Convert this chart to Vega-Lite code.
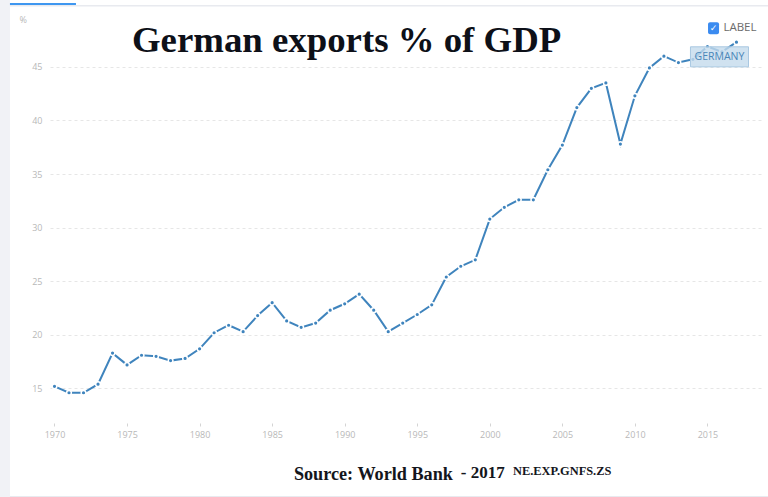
{
  "$schema": "https://vega.github.io/schema/vega-lite/v6.json",
  "width": 712,
  "height": 406,
  "autosize": "none",
  "padding": { "left": 50, "top": 14, "right": 6, "bottom": 77 },
  "background": "#ffffff",
  "config": {
    "view": { "stroke": null },
    "font": "Open Sans"
  },
  "encoding": {
    "x": {
      "field": "year",
      "type": "quantitative",
      "title": null,
      "scale": { "domain": [1969.69, 2018.76], "nice": false, "zero": false },
      "axis": {
        "values": [1970, 1975, 1980, 1985, 1990, 1995, 2000, 2005, 2010, 2015],
        "format": "d",
        "grid": false,
        "domain": false,
        "offset": 3,
        "tickSize": 3,
        "tickColor": "#d4d4d4",
        "labelColor": "#b8b8b8",
        "labelFontSize": 9,
        "labelPadding": 4
      }
    },
    "y": {
      "field": "pct",
      "type": "quantitative",
      "title": null,
      "scale": { "domain": [12.06, 49.93], "nice": false, "zero": false },
      "axis": {
        "values": [15, 20, 25, 30, 35, 40, 45],
        "grid": true,
        "gridColor": "#e6e6e6",
        "gridDash": [3, 3],
        "domain": false,
        "ticks": false,
        "labelColor": "#b8b8b8",
        "labelFontSize": 9,
        "labelPadding": 8
      }
    }
  },
  "layer": [
    {
      "data": { "values": [{ "year": 1966.24, "year2": 1966.93, "pct": 51.24, "pct2": 4.88 }] },
      "mark": { "type": "rect", "color": "#f1f2f6" },
      "encoding": { "x2": { "field": "year2" }, "y2": { "field": "pct2" } }
    },
    {
      "data": { "values": [
        { "year": 1966.93, "year2": 2019.17, "pct": 50.78, "pct2": 50.62 },
        { "year": 1966.93, "year2": 2019.17, "pct": 4.97, "pct2": 4.88 }
      ] },
      "mark": { "type": "rect", "color": "#e8eaef" },
      "encoding": { "x2": { "field": "year2" }, "y2": { "field": "pct2" } }
    },
    {
      "data": { "values": [{ "year": 1966.93, "year2": 1971.48, "pct": 50.96, "pct2": 50.76 }] },
      "mark": { "type": "rect", "color": "#3f97f0" },
      "encoding": { "x2": { "field": "year2" }, "y2": { "field": "pct2" } }
    },
    {
      "data": { "name": "exports", "values": [
        { "year": 1970, "pct": 15.2 },
        { "year": 1971, "pct": 14.6 },
        { "year": 1972, "pct": 14.6 },
        { "year": 1973, "pct": 15.4 },
        { "year": 1974, "pct": 18.3 },
        { "year": 1975, "pct": 17.2 },
        { "year": 1976, "pct": 18.1 },
        { "year": 1977, "pct": 18.0 },
        { "year": 1978, "pct": 17.6 },
        { "year": 1979, "pct": 17.8 },
        { "year": 1980, "pct": 18.7 },
        { "year": 1981, "pct": 20.2 },
        { "year": 1982, "pct": 20.9 },
        { "year": 1983, "pct": 20.3 },
        { "year": 1984, "pct": 21.8 },
        { "year": 1985, "pct": 23.0 },
        { "year": 1986, "pct": 21.3 },
        { "year": 1987, "pct": 20.7 },
        { "year": 1988, "pct": 21.1 },
        { "year": 1989, "pct": 22.3 },
        { "year": 1990, "pct": 22.9 },
        { "year": 1991, "pct": 23.8 },
        { "year": 1992, "pct": 22.3 },
        { "year": 1993, "pct": 20.3 },
        { "year": 1994, "pct": 21.1 },
        { "year": 1995, "pct": 21.9 },
        { "year": 1996, "pct": 22.8 },
        { "year": 1997, "pct": 25.4 },
        { "year": 1998, "pct": 26.4 },
        { "year": 1999, "pct": 27.0 },
        { "year": 2000, "pct": 30.8 },
        { "year": 2001, "pct": 31.9 },
        { "year": 2002, "pct": 32.6 },
        { "year": 2003, "pct": 32.6 },
        { "year": 2004, "pct": 35.4 },
        { "year": 2005, "pct": 37.7 },
        { "year": 2006, "pct": 41.2 },
        { "year": 2007, "pct": 43.0 },
        { "year": 2008, "pct": 43.5 },
        { "year": 2009, "pct": 37.8 },
        { "year": 2010, "pct": 42.3 },
        { "year": 2011, "pct": 44.9 },
        { "year": 2012, "pct": 46.0 },
        { "year": 2013, "pct": 45.4 },
        { "year": 2014, "pct": 45.7 },
        { "year": 2015, "pct": 46.9 },
        { "year": 2016, "pct": 46.4 },
        { "year": 2017, "pct": 47.3 }
      ] },
      "mark": { "type": "line", "color": "#3f84bd", "strokeWidth": 2 }
    },
    {
      "data": { "name": "exports" },
      "mark": { "type": "point", "filled": true, "color": "#3f84bd", "stroke": "#ffffff", "strokeWidth": 1.5, "size": 22, "opacity": 1 }
    },
    {
      "data": { "values": [{ "year": 2013.83, "year2": 2017.83, "pct": 46.87, "pct2": 45 }] },
      "mark": { "type": "rect", "fill": "#c4dbec", "fillOpacity": 0.8, "stroke": "#a9c8e2", "strokeWidth": 1 },
      "encoding": { "x2": { "field": "year2" }, "y2": { "field": "pct2" } }
    },
    {
      "data": { "values": [{ "year": 2015.83, "pct": 45.93, "label": "GERMANY" }] },
      "mark": { "type": "text", "align": "center", "baseline": "middle", "fontSize": 10.5, "color": "#4a86b8" },
      "encoding": { "text": { "field": "label" } }
    },
    {
      "data": { "values": [{ "year": 2015.04, "year2": 2015.8, "pct": 49.16, "pct2": 48.04 }] },
      "mark": { "type": "rect", "fill": "#3b8bf0", "cornerRadius": 2 },
      "encoding": { "x2": { "field": "year2" }, "y2": { "field": "pct2" } }
    },
    {
      "data": { "values": [{ "year": 2015.42, "pct": 48.6, "label": "✓" }] },
      "mark": { "type": "text", "align": "center", "baseline": "middle", "fontSize": 9, "fontWeight": "bold", "color": "#ffffff", "font": "DejaVu Sans" },
      "encoding": { "text": { "field": "label" } }
    },
    {
      "data": { "values": [{ "year": 2016.1, "pct": 48.6, "label": "LABEL" }] },
      "mark": { "type": "text", "align": "left", "baseline": "middle", "fontSize": 11.5, "color": "#6b6b6b" },
      "encoding": { "text": { "field": "label" } }
    },
    {
      "data": { "values": [{ "year": 1967.85, "pct": 49.4, "label": "%" }] },
      "mark": { "type": "text", "align": "center", "baseline": "middle", "fontSize": 9, "color": "#b8b8b8" },
      "encoding": { "text": { "field": "label" } }
    },
    {
      "data": { "values": [{ "year": 1975.34, "pct": 46.39, "label": "German exports % of GDP" }] },
      "mark": { "type": "text", "align": "left", "baseline": "alphabetic", "font": "Liberation Serif", "fontWeight": "bold", "fontSize": 36.8, "color": "#0d1018" },
      "encoding": { "text": { "field": "label" } }
    },
    {
      "data": { "values": [{ "year": 1986.5, "pct": 6.46, "label": "Source: World Bank" }] },
      "mark": { "type": "text", "align": "left", "baseline": "alphabetic", "font": "Liberation Serif", "fontWeight": "bold", "fontSize": 18.2, "color": "#14161c" },
      "encoding": { "text": { "field": "label" } }
    },
    {
      "data": { "values": [{ "year": 1998.0, "pct": 6.65, "label": "- 2017" }] },
      "mark": { "type": "text", "align": "left", "baseline": "alphabetic", "font": "Liberation Serif", "fontWeight": "bold", "fontSize": 17, "color": "#14161c" },
      "encoding": { "text": { "field": "label" } }
    },
    {
      "data": { "values": [{ "year": 2001.6, "pct": 6.93, "label": "NE.EXP.GNFS.ZS" }] },
      "mark": { "type": "text", "align": "left", "baseline": "alphabetic", "font": "Liberation Serif", "fontWeight": "bold", "fontSize": 12.4, "color": "#14161c" },
      "encoding": { "text": { "field": "label" } }
    }
  ]
}
